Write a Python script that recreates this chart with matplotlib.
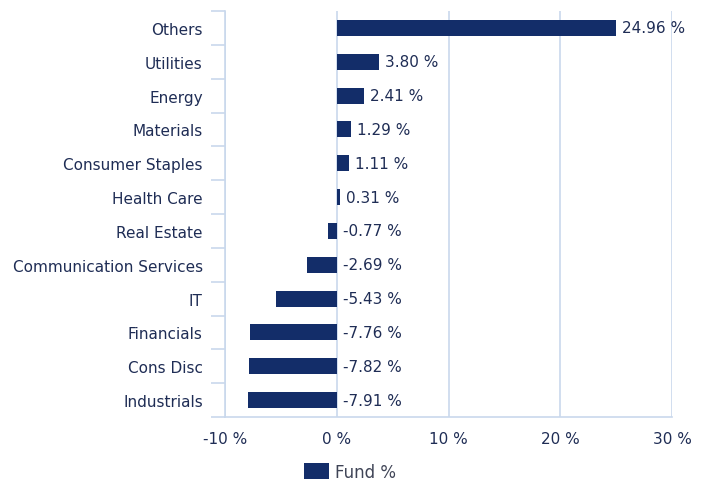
import matplotlib.pyplot as plt
from matplotlib.patches import Patch

# Data (top to bottom as shown)
sectors = ["Others", "Utilities", "Energy", "Materials", "Consumer Staples",
           "Health Care", "Real Estate", "Communication Services", "IT",
           "Financials", "Cons Disc", "Industrials"]
fund = [24.96, 3.80, 2.41, 1.29, 1.11, 0.31, -0.77, -2.69, -5.43, -7.76, -7.82, -7.91]
xticks = [-10, 0, 10, 20, 30]

bar_color = "#132d69"
text_color = "#1f2d55"
grid_color = "#c9d8ec"

plt.rcParams['font.family'] = ['DejaVu Sans']

fig = plt.figure(figsize=(7.06, 4.89), dpi=100)
ax = fig.add_axes([225 / 706, 1 - 418 / 489, (672 - 225) / 706, (418 - 12) / 489])

n = len(sectors)
ypos = list(range(n))
ax.barh(ypos, fund, height=0.47, color=bar_color, zorder=3)

for y, v in zip(ypos, fund):
    ax.text(max(v, 0) + 0.55, y, f"{v:.2f} %", va="center", ha="left",
            fontsize=11, color=text_color, zorder=4)

ax.set_xlim(-10, 30)
ax.set_ylim(n - 0.5, -0.5)

# Category labels at centers, tick marks at boundaries
ax.set_yticks(ypos)
ax.set_yticklabels(sectors, fontsize=11, color=text_color)
ax.tick_params(axis='y', which='major', length=0, pad=16)
ax.set_yticks([i - 0.5 for i in range(n + 1)], minor=True)
ax.tick_params(axis='y', which='minor', length=10, width=1.2, color=grid_color)

ax.set_xticks(xticks)
ax.set_xticklabels([f"{t} %" for t in xticks], fontsize=11, color=text_color)
ax.tick_params(axis='x', length=0, pad=10)

ax.grid(axis='x', color=grid_color, linewidth=1.2, zorder=0)
for side in ['top', 'right']:
    ax.spines[side].set_visible(False)
for side in ['left', 'bottom']:
    ax.spines[side].set_color(grid_color)
    ax.spines[side].set_linewidth(1.2)

handle = Patch(facecolor=bar_color, edgecolor='none', label="Fund %")
fig.legend(handles=[handle], loc='center', bbox_to_anchor=(350 / 706, 1 - 473 / 489),
           frameon=False, fontsize=12, handlelength=1.5, handleheight=1.1,
           handletextpad=0.4, labelcolor="#3f4456")

fig.savefig("out.png", dpi=100)
